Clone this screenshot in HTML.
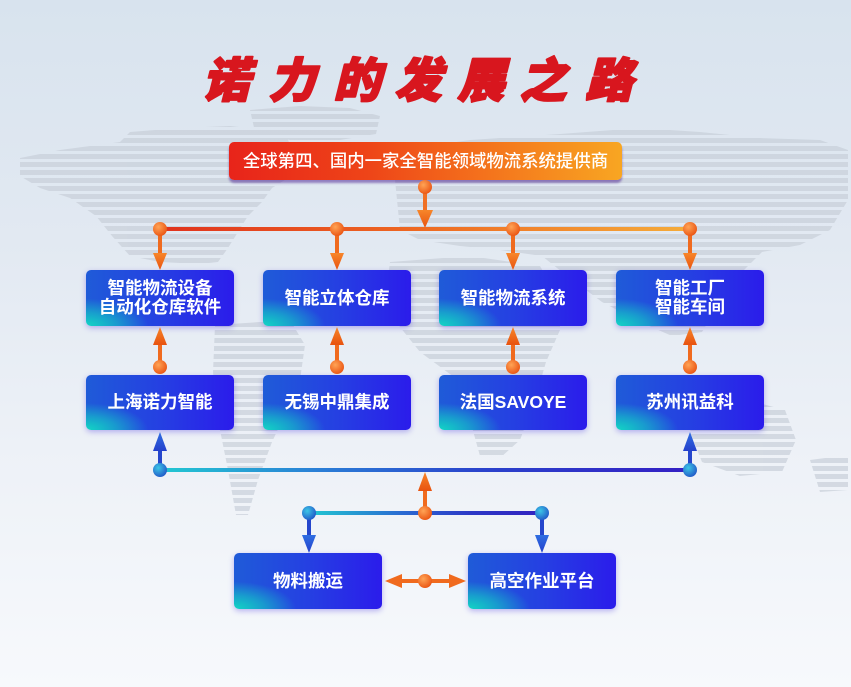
<!DOCTYPE html>
<html><head><meta charset="utf-8">
<style>
*{margin:0;padding:0;box-sizing:border-box}
html,body{width:851px;height:687px;overflow:hidden}
body{position:relative;background:linear-gradient(to bottom,#d8e3ee 0%,#e2e9f2 35%,#edf1f7 65%,#f7f9fc 100%);font-family:"Liberation Sans","Noto Sans CJK SC",sans-serif}
svg{position:absolute;left:0;top:0}
.box{position:absolute;width:148px;border-radius:5px;color:#fff;font-size:17.5px;font-weight:700;text-align:center;display:flex;flex-direction:column;justify-content:center;line-height:19px;
background:radial-gradient(ellipse 60% 70% at 0% 100%,rgba(18,214,196,1) 0%,rgba(18,214,196,0.55) 35%,rgba(18,214,196,0) 70%),linear-gradient(to right,#1f5bd8 0%,#2540e2 50%,#2b1ceb 100%);
box-shadow:0 2px 6px rgba(70,50,220,0.35)}
.r1{top:270px;height:56px}
.r2{top:375px;height:55px}
.r3{top:553px;height:56px}
.banner{position:absolute;left:229px;top:142px;width:393px;height:38px;border-radius:5px;
background:linear-gradient(to right,#e8241a 0%,#ee4418 35%,#f4721c 65%,#f8a622 100%);
box-shadow:0 3px 2px rgba(80,40,150,0.55);color:#fff;font-size:17.4px;font-weight:500;text-align:center;line-height:38px;white-space:nowrap}
.tt{font-family:"Noto Sans CJK SC",sans-serif;font-weight:900;font-size:47px;fill:#d8161e;stroke:#d8161e;stroke-width:2.2px;stroke-linejoin:round}
</style></head><body>
<svg width="851" height="687" viewBox="0 0 851 687">
<defs>
<pattern id="st" width="8" height="8" patternUnits="userSpaceOnUse">
<rect x="0" y="2" width="8" height="5" fill="#c6cdd7"/>
</pattern>
</defs>
<g fill="url(#st)" opacity="0.65">
<polygon points="20,158 60,150 120,142 130,132 180,128 230,126 285,132 292,150 288,178 272,188 262,202 248,216 238,232 228,248 218,262 200,264 160,262 130,256 112,236 96,216 70,198 40,188 20,176"/>
<polygon points="250,110 300,106 350,108 380,116 376,134 340,140 290,140 255,132"/>
<polygon points="215,325 290,320 305,345 300,380 287,410 272,442 258,480 248,515 236,515 228,470 218,420 213,372"/>
<polygon points="400,150 470,140 560,134 640,128 700,132 760,138 820,140 848,150 848,200 830,230 800,245 762,252 742,272 722,300 702,332 672,336 640,322 602,302 562,272 542,256 500,250 460,246 420,240 400,230 395,180"/>
<polygon points="390,262 470,256 540,266 560,300 560,330 546,362 535,400 520,440 500,458 480,456 470,420 458,380 420,352 396,322 386,292"/>
<polygon points="695,405 740,398 785,410 796,440 782,472 740,476 702,462 690,432"/>
<polygon points="810,460 848,455 848,490 820,492"/>
</g>
<g transform="translate(226,97) skewX(-14)"><text class="tt" text-anchor="middle">诺</text></g>
<g transform="translate(292,97) skewX(-14)"><text class="tt" text-anchor="middle">力</text></g>
<g transform="translate(357,97) skewX(-14)"><text class="tt" text-anchor="middle">的</text></g>
<g transform="translate(418,97) skewX(-14)"><text class="tt" text-anchor="middle">发</text></g>
<g transform="translate(481,97) skewX(-14)"><text class="tt" text-anchor="middle">展</text></g>
<g transform="translate(543,97) skewX(-14)"><text class="tt" text-anchor="middle">之</text></g>
<g transform="translate(609,97) skewX(-14)"><text class="tt" text-anchor="middle">路</text></g>
</svg>

<div class="banner">全球第四、国内一家全智能领域物流系统提供商</div>

<div class="box r1" style="left:86px"><div>智能物流设备</div><div>自动化仓库软件</div></div>
<div class="box r1" style="left:263px">智能立体仓库</div>
<div class="box r1" style="left:439px">智能物流系统</div>
<div class="box r1" style="left:616px"><div>智能工厂</div><div>智能车间</div></div>

<div class="box r2" style="left:86px">上海诺力智能</div>
<div class="box r2" style="left:263px">无锡中鼎集成</div>
<div class="box r2" style="left:439px">法国SAVOYE</div>
<div class="box r2" style="left:616px">苏州讯益科</div>

<div class="box r3" style="left:234px">物料搬运</div>
<div class="box r3" style="left:468px">高空作业平台</div>

<svg width="851" height="687" viewBox="0 0 851 687">
<defs>
<linearGradient id="og" x1="157" y1="0" x2="691" y2="0" gradientUnits="userSpaceOnUse">
<stop offset="0" stop-color="#e0321e"/><stop offset="0.5" stop-color="#ee6a22"/><stop offset="1" stop-color="#f5ac3a"/>
</linearGradient>
<linearGradient id="bg1" x1="160" y1="0" x2="690" y2="0" gradientUnits="userSpaceOnUse">
<stop offset="0" stop-color="#22c8d2"/><stop offset="0.3" stop-color="#2a7ed6"/><stop offset="0.6" stop-color="#2a44cc"/><stop offset="1" stop-color="#3420c4"/>
</linearGradient>
<linearGradient id="bg2" x1="309" y1="0" x2="542" y2="0" gradientUnits="userSpaceOnUse">
<stop offset="0" stop-color="#22c8d2"/><stop offset="0.4" stop-color="#2a6ad2"/><stop offset="0.7" stop-color="#2c38c6"/><stop offset="1" stop-color="#3222c0"/>
</linearGradient>
<radialGradient id="od" cx="0.38" cy="0.35" r="0.7">
<stop offset="0" stop-color="#ffa456"/><stop offset="1" stop-color="#ea5412"/>
</radialGradient>
<radialGradient id="bd" cx="0.38" cy="0.35" r="0.7">
<stop offset="0" stop-color="#3cc6e6"/><stop offset="1" stop-color="#2158c8"/>
</radialGradient>
<linearGradient id="oa" x1="0" y1="0" x2="0" y2="1">
<stop offset="0" stop-color="#f7862a"/><stop offset="1" stop-color="#e8520f"/>
</linearGradient>
<linearGradient id="ba" x1="0" y1="0" x2="0" y2="1">
<stop offset="0" stop-color="#2f6ee2"/><stop offset="1" stop-color="#2440cc"/>
</linearGradient>
</defs>

<rect x="423" y="187" width="4" height="26" fill="#f07024"/>
<polygon points="417,210 433,210 425,228" fill="url(#oa)"/>
<circle cx="425" cy="187" r="7" fill="url(#od)"/>

<rect x="160" y="227" width="530" height="4" fill="url(#og)"/>

<g fill="#f06a1e">
<rect x="158" y="229" width="4" height="27"/><rect x="335" y="229" width="4" height="27"/><rect x="511" y="229" width="4" height="27"/><rect x="688" y="229" width="4" height="27"/>
</g>
<g fill="url(#oa)">
<polygon points="153,253 167,253 160,270"/><polygon points="330,253 344,253 337,270"/><polygon points="506,253 520,253 513,270"/><polygon points="683,253 697,253 690,270"/>
</g>
<g fill="url(#od)">
<circle cx="160" cy="229" r="7"/><circle cx="337" cy="229" r="7"/><circle cx="513" cy="229" r="7"/><circle cx="690" cy="229" r="7"/>
</g>

<g fill="#f06a1e">
<rect x="158" y="342" width="4" height="25"/><rect x="335" y="342" width="4" height="25"/><rect x="511" y="342" width="4" height="25"/><rect x="688" y="342" width="4" height="25"/>
</g>
<g fill="url(#oa)">
<polygon points="153,345 167,345 160,327"/><polygon points="330,345 344,345 337,327"/><polygon points="506,345 520,345 513,327"/><polygon points="683,345 697,345 690,327"/>
</g>
<g fill="url(#od)">
<circle cx="160" cy="367" r="7"/><circle cx="337" cy="367" r="7"/><circle cx="513" cy="367" r="7"/><circle cx="690" cy="367" r="7"/>
</g>

<rect x="160" y="468" width="530" height="4" fill="url(#bg1)"/>
<g fill="#2546cc">
<rect x="158" y="448" width="4" height="22"/><rect x="688" y="448" width="4" height="22"/>
</g>
<g fill="url(#ba)">
<polygon points="153,451 167,451 160,432"/><polygon points="683,451 697,451 690,432"/>
</g>
<circle cx="160" cy="470" r="7" fill="url(#bd)"/>
<circle cx="690" cy="470" r="7" fill="url(#bd)"/>

<rect x="309" y="511" width="233" height="4" fill="url(#bg2)"/>
<rect x="423" y="487" width="4" height="26" fill="#f06a1e"/>
<polygon points="418,491 432,491 425,472" fill="url(#oa)"/>
<circle cx="425" cy="513" r="7" fill="url(#od)"/>
<g fill="#2546cc">
<rect x="307" y="513" width="4" height="25"/><rect x="540" y="513" width="4" height="25"/>
</g>
<g fill="url(#ba)">
<polygon points="302,535 316,535 309,553"/><polygon points="535,535 549,535 542,553"/>
</g>
<circle cx="309" cy="513" r="7" fill="url(#bd)"/>
<circle cx="542" cy="513" r="7" fill="url(#bd)"/>

<rect x="398" y="579" width="55" height="4" fill="#f06a1e"/>
<polygon points="385,581 402,574 402,588" fill="#f06a1e"/>
<polygon points="466,581 449,574 449,588" fill="#f06a1e"/>
<circle cx="425" cy="581" r="7" fill="url(#od)"/>
</svg>
</body></html>
